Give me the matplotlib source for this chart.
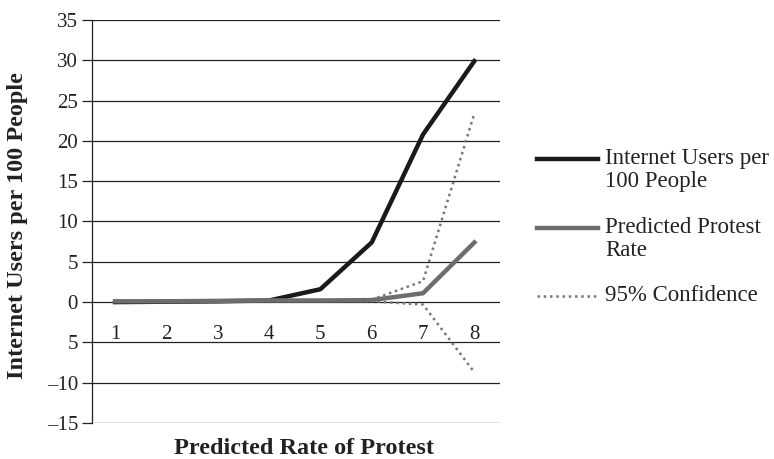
import matplotlib.pyplot as plt
from matplotlib.lines import Line2D

# data
categories = [1, 2, 3, 4, 5, 6, 7, 8]
internet_users = [0.0, 0.05, 0.1, 0.2, 1.6, 7.4, 20.8, 29.9]
predicted_rate = [0.1, 0.1, 0.15, 0.2, 0.2, 0.25, 1.1, 7.4]
ci_upper = [0.1, 0.1, 0.15, 0.2, 0.2, 0.3, 2.6, 23.4]
ci_lower = [0.1, 0.1, 0.15, 0.2, 0.2, 0.1, -0.3, -8.7]
y_ticks = [-15, -10, -5, 0, 5, 10, 15, 20, 25, 30, 35]
y_tick_labels = ["\u201315", "\u201310", "5", "0", "5", "10", "15", "20", "25", "30", "35"]

plt.rcParams['font.family'] = ['Liberation Serif', 'DejaVu Serif']

fig = plt.figure(figsize=(7.74, 4.59), dpi=100)
ax = fig.add_axes([92 / 774, 1 - 423 / 459, 408 / 774, 403 / 459])

for y in y_ticks:
    ax.axhline(y, color='#222222', linewidth=0.9, zorder=1)

ax.plot(categories, ci_upper, color='#777777', linestyle=(0, (1, 1.5)), linewidth=1.8, zorder=2)
ax.plot(categories, ci_lower, color='#777777', linestyle=(0, (1, 1.5)), linewidth=1.8, zorder=2)
ax.plot(categories, internet_users, color='#1a1a1a', linewidth=3.2, zorder=3)
ax.plot(categories, predicted_rate, color='#6d6d6d', linewidth=3.2, zorder=4)

# category labels sit just under the zero line
for c in categories:
    ax.text(c, -4, str(c), ha='center', va='center', fontsize=15, color='#222222')

ax.set_xlim(0.55, 8.5)
ax.set_ylim(-15, 35)
ax.set_xticks([])
ax.set_yticks(y_ticks)
ax.set_yticklabels(y_tick_labels, fontsize=15, color='#222222')
ax.tick_params(axis='y', length=7, width=0.9, color='#222222', pad=3)
for s in ['top', 'right', 'bottom']:
    ax.spines[s].set_visible(False)
ax.spines['left'].set_color('#222222')
ax.spines['left'].set_linewidth(0.9)

fig.text(18 / 774, 1 - 226 / 459, 'Internet Users per 100 People', rotation=90,
         ha='center', va='center', fontsize=17.5, fontweight='bold', color='#222222')
fig.text(304 / 774, 1 - 449 / 459, 'Predicted Rate of Protest', ha='center', va='center',
         fontsize=17.5, fontweight='bold', color='#222222')

# legend drawn by hand so the key lines up with the first text line
legend_items = [
    ("Internet Users per\n100 People", '#1a1a1a', '-', 3.2, 159),
    ("Predicted Protest\nRate", '#6d6d6d', '-', 3.2, 228),
    ("95% Confidence", '#777777', (0, (1, 1.5)), 1.8, 296),
]
for label, color, ls, lw, ypix in legend_items:
    yf = 1 - ypix / 459
    fig.add_artist(Line2D([537 / 774, 598 / 774], [yf, yf], color=color, linestyle=ls,
                          linewidth=lw, transform=fig.transFigure))
    fig.text(605 / 774, yf + 11 / 459, label, ha='left', va='top', fontsize=16.5,
             color='#222222', linespacing=1.15)

fig.savefig('out.png', dpi=100)
